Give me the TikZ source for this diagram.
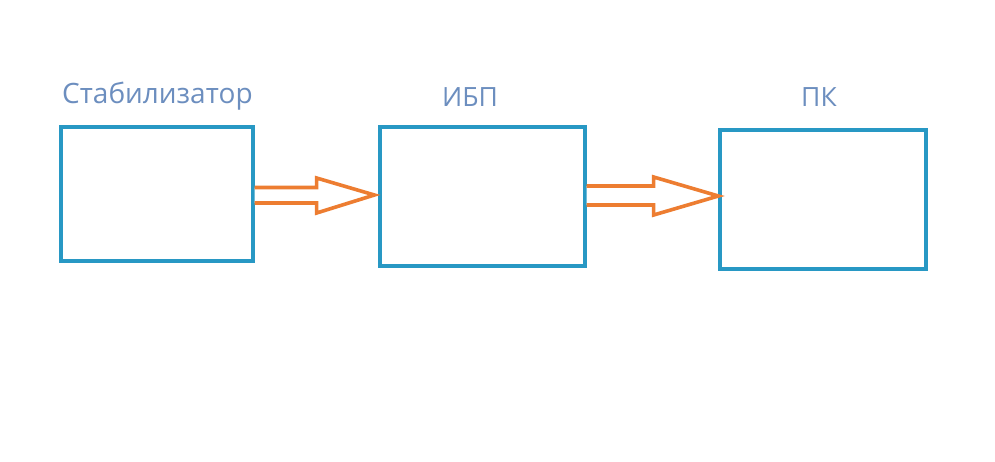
\documentclass[tikz,border=0pt]{standalone}
\usepackage{fontspec}
\setmainfont{Open Sans}
\usetikzlibrary{calc}
\definecolor{boxblue}{RGB}{40,152,196}
\definecolor{arrorange}{RGB}{237,125,49}
\definecolor{labelblue}{RGB}{108,142,191}
\begin{document}
\begin{tikzpicture}[x=1pt,y=-1pt,
  box/.style={draw=boxblue,line width=3.2pt,minimum width=#1,inner sep=0pt},
  barrow/.style={draw=arrorange,line width=3.6pt,line join=miter,fill=white},
  lbl/.style={text=labelblue,anchor=base west,inner sep=0pt,font=\fontsize{28}{30}\selectfont}]
\fill[white] (0,0) rectangle (995,461);
\useasboundingbox (0,0) rectangle (995,461);
\node[box=192pt,minimum height=134pt] (b1) at (157,194) {};
\node[box=205pt,minimum height=139pt] (b2) at (482.5,196.5) {};
\node[box=206pt,minimum height=139pt] (b3) at (823,199.5) {};
\node[lbl] (l1) at (62,103) {Стабилизатор};
\node[lbl,font=\fontsize{26.5}{28}\selectfont] (l2) at (442,106.5) {ИБП};
\node[lbl,font=\fontsize{26.5}{28}\selectfont] (l3) at (801,106.5) {ПК};
% arrow 1
\coordinate (t1) at ([xshift=-4pt,yshift=1.5pt]b2.west);
\draw[barrow] ([yshift=6.5pt]b1.east) -- ($(b1.east)+(62,-6.5)$) -- ($(b1.east)+(62,-16)$)
  -- (t1) -- ($(b1.east)+(62,19)$) -- ($(b1.east)+(62,9)$) -- ([yshift=-9pt]b1.east);
% arrow 2
\coordinate (t2) at ([yshift=3.5pt]b3.west);
\draw[barrow] ([yshift=10.5pt]b2.east) -- ($(b2.east)+(67,-10.5)$) -- ($(b2.east)+(67,-19.5)$)
  -- (t2) -- ($(b2.east)+(67,18.5)$) -- ($(b2.east)+(67,8.5)$) -- ([yshift=-8.5pt]b2.east);
\end{tikzpicture}
\end{document}
